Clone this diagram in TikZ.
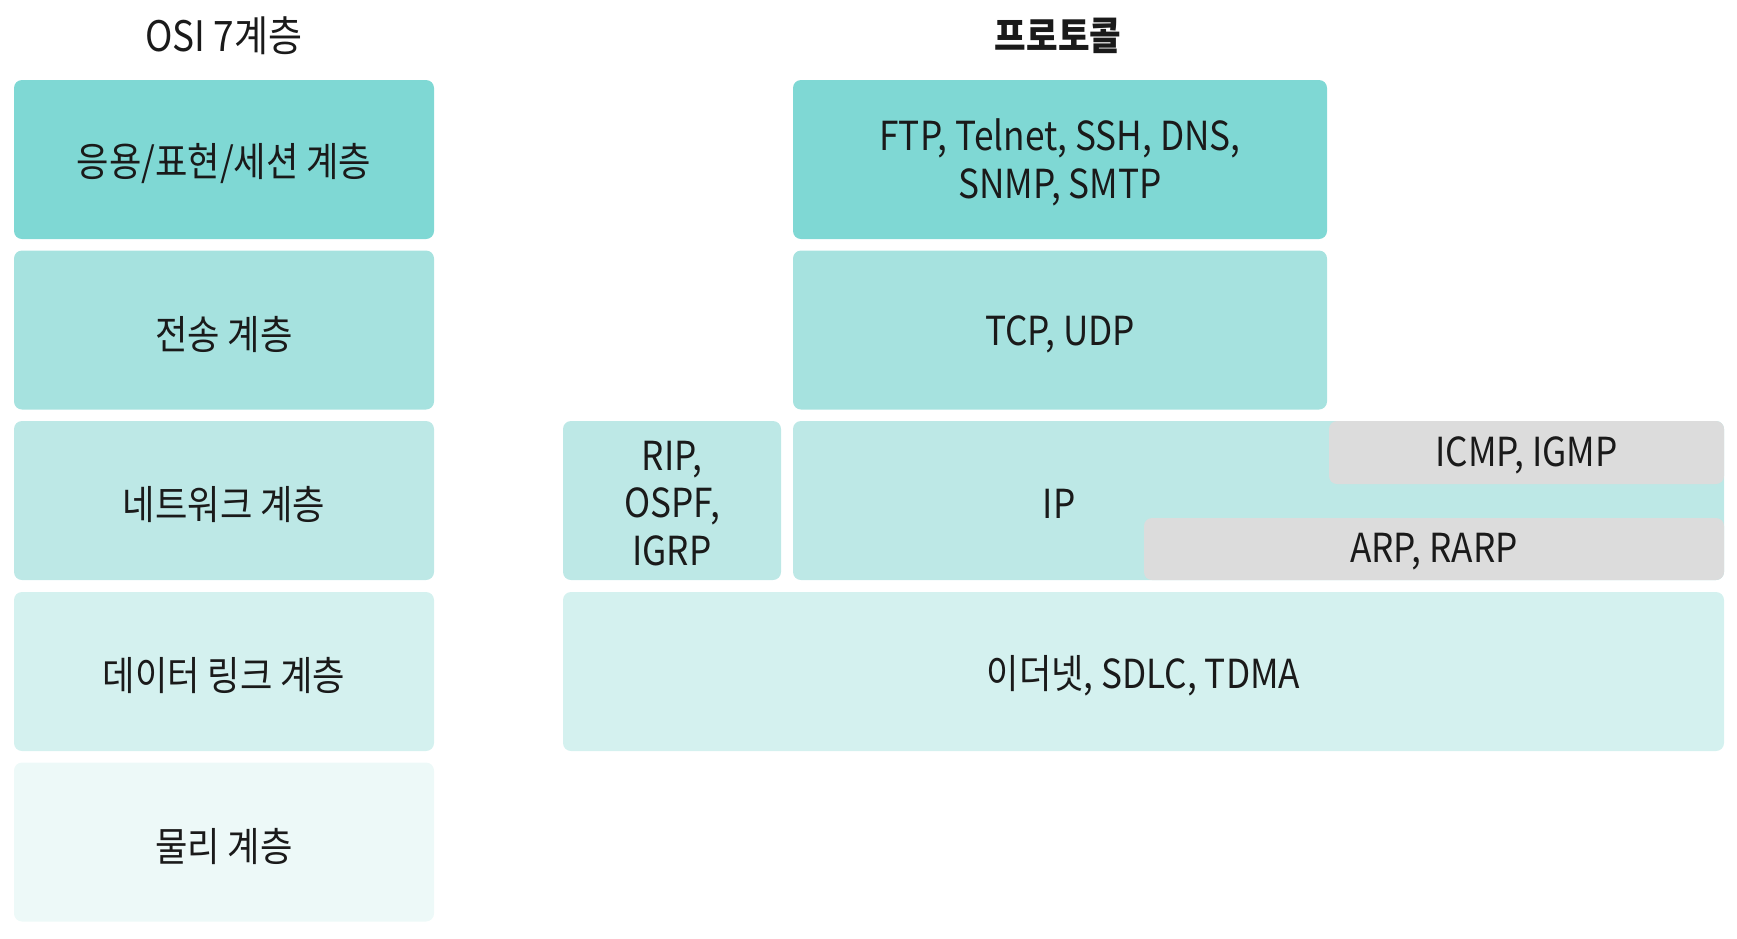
\documentclass[tikz,border=0pt]{standalone}
\usepackage{fontspec}
\setmainfont{Noto Sans CJK KR}[FakeStretch=0.88]
\definecolor{ca}{HTML}{7FD8D4}
\definecolor{cb}{HTML}{A6E2DF}
\definecolor{cc}{HTML}{BDE8E6}
\definecolor{cd}{HTML}{D4F1EF}
\definecolor{ce}{HTML}{EDF9F8}
\definecolor{gr}{HTML}{DCDCDC}
\definecolor{tx}{HTML}{1A1A1A}
\begin{document}
\begin{tikzpicture}[x=1pt,y=-1pt,
  lay/.style={rounded corners=8pt, inner sep=0pt, outer sep=0pt, minimum height=159pt},
  lbl/.style={inner sep=0pt, align=center, font=\fontsize{40}{47.5}\selectfont, text=tx},
  ttl/.style={inner sep=0pt, font=\fontsize{42}{48}\selectfont, text=tx}]
\useasboundingbox (0,0) rectangle (1737,938);
% titles
\node[ttl] (t1) at (224,36) {OSI 7계층};
\node[ttl, font=\fontsize{39}{46}\selectfont\bfseries] (t2) at (1058,36) {프로토콜};
% OSI layers
\node[lay, fill=ca, minimum width=420pt] (l1) at (224,159.5) {};
\node[lay, fill=cb, minimum width=420pt] (l2) at (224,330) {};
\node[lay, fill=cc, minimum width=420pt] (l3) at (224,500.5) {};
\node[lay, fill=cd, minimum width=420pt] (l4) at (224,671.5) {};
\node[lay, fill=ce, minimum width=420pt] (l5) at (224,842) {};
\node[lbl] (l1t) at ([yshift=-4pt]l1.center) {응용/표현/세션 계층};
\node[lbl] (l2t) at ([yshift=-4pt]l2.center) {전송 계층};
\node[lbl] (l3t) at ([yshift=-4pt]l3.center) {네트워크 계층};
\node[lbl] (l4t) at ([yshift=-4pt]l4.center) {데이터 링크 계층};
\node[lbl] (l5t) at ([yshift=-4pt]l5.center) {물리 계층};
% protocols
\node[lay, fill=ca, minimum width=534pt] (p1) at (1060,159.5) {};
\node[lay, fill=cb, minimum width=534pt] (p2) at (1060,330) {};
\node[lay, fill=cc, minimum width=218pt] (rip) at (672,500.5) {};
\node[lay, fill=cc, minimum width=931pt] (ip) at (1258.5,500.5) {};
\node[lay, fill=gr, minimum width=395pt, minimum height=63pt] (icmp) at (1526.5,452.5) {};
\node[lay, fill=gr, minimum width=580pt, minimum height=62pt] (arp) at (1434,549) {};
\node[lay, fill=cd, minimum width=1161pt] (dl) at (1143.5,671.5) {};
\node[lbl] (p1t) at ([yshift=-3pt]p1.center) {FTP, Telnet, SSH, DNS,\\SNMP, SMTP};
\node[lbl] (p2t) at ([yshift=-4pt]p2.center) {TCP, UDP};
\node[lbl] (ript) at ([yshift=-3pt]rip.center) {RIP,\\OSPF,\\IGRP};
\node[lbl] (ipt) at (1059,504) {IP};
\node[lbl] (icmpt) at ([yshift=-3pt]icmp.center) {ICMP, IGMP};
\node[lbl] (arpt) at ([yshift=-3pt]arp.center) {ARP, RARP};
\node[lbl] (dlt) at ([yshift=-4pt]dl.center) {이더넷, SDLC, TDMA};
\end{tikzpicture}
\end{document}
